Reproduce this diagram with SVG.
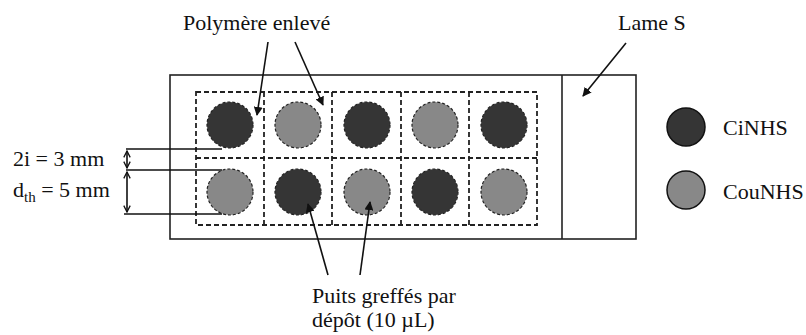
<svg xmlns="http://www.w3.org/2000/svg" width="806" height="335" viewBox="0 0 806 335">
<defs>
<style>
.t{font-family:'Liberation Serif', 'DejaVu Serif', serif;font-size:22px;fill:#111}
.solid{fill:none;stroke:#222;stroke-width:1.6}
.dash{fill:none;stroke:#222;stroke-width:1.8;stroke-dasharray:5,3}
.dark{fill:#353535;stroke:#222;stroke-width:1.2;stroke-dasharray:3,2}
.gray{fill:#888;stroke:#222;stroke-width:1.2;stroke-dasharray:3,2}
.ldark{fill:#353535;stroke:#111;stroke-width:1.5}
.lgray{fill:#888;stroke:#111;stroke-width:1.5}
.arr{stroke:#111;stroke-width:1.6;fill:none;marker-end:url(#ah)}
.dim{stroke:#111;stroke-width:1.6;fill:none;marker-start:url(#oh);marker-end:url(#oh)}
.ext{stroke:#111;stroke-width:1.5;fill:none}
</style>
<marker id="ah" viewBox="0 0 10 10" refX="9" refY="5" markerWidth="9" markerHeight="9" markerUnits="userSpaceOnUse" orient="auto"><path d="M0,0 L10,5 L0,10 z" fill="#111"/></marker>
<marker id="oh" viewBox="0 0 10 10" refX="9" refY="5" markerWidth="8" markerHeight="8" markerUnits="userSpaceOnUse" orient="auto-start-reverse"><path d="M1,1 L9,5 L1,9" fill="none" stroke="#111" stroke-width="1.6"/></marker>
</defs>
<rect width="806" height="335" fill="#fff"/>

<g id="slide">
<rect class="solid" x="170" y="75" width="466" height="164"/>
<line class="solid" x1="562" y1="75" x2="562" y2="239"/>
</g>

<g id="grid">
<rect class="dash" x="196" y="92" width="341" height="133"/>
<line class="dash" x1="196" y1="158" x2="537" y2="158"/>
<line class="dash" x1="264" y1="92" x2="264" y2="225"/>
<line class="dash" x1="332" y1="92" x2="332" y2="225"/>
<line class="dash" x1="401" y1="92" x2="401" y2="225"/>
<line class="dash" x1="469" y1="92" x2="469" y2="225"/>
</g>

<g id="wells">
<circle class="dark" cx="230" cy="125" r="23"/>
<circle class="gray" cx="298" cy="125" r="23"/>
<circle class="dark" cx="367" cy="125" r="23"/>
<circle class="gray" cx="435" cy="125" r="23"/>
<circle class="dark" cx="504" cy="125" r="23"/>
<circle class="gray" cx="230" cy="192" r="23"/>
<circle class="dark" cx="298" cy="192" r="23"/>
<circle class="gray" cx="367" cy="192" r="23"/>
<circle class="dark" cx="435" cy="192" r="23"/>
<circle class="gray" cx="504" cy="192" r="23"/>
</g>

<g id="legend">
<circle class="ldark" cx="686" cy="127" r="19"/>
<text class="t" x="723" y="135">CiNHS</text>
<circle class="lgray" cx="686" cy="190" r="19"/>
<text class="t" x="723" y="199">CouNHS</text>
</g>

<g id="labels">
<text class="t" x="183" y="30">Polymère enlevé</text>
<text class="t" x="618" y="30">Lame S</text>
<text class="t" x="312" y="303">Puits greffés par</text>
<text class="t" x="312" y="327">dépôt (10 µL)</text>
<text class="t" x="13" y="166">2i = 3 mm</text>
<text class="t" x="13" y="197">d<tspan font-size="15" dy="5">th</tspan><tspan dy="-5"> = 5 mm</tspan></text>
</g>

<g id="connectors">
<line class="arr" x1="268" y1="42" x2="257" y2="115"/>
<line class="arr" x1="295" y1="42" x2="323" y2="105"/>
<line class="arr" x1="626" y1="43" x2="583" y2="96"/>
<line class="arr" x1="328" y1="275" x2="308" y2="204"/>
<line class="arr" x1="360" y1="275" x2="370" y2="202"/>
<line class="ext" x1="126" y1="149" x2="222" y2="149"/>
<line class="ext" x1="126" y1="170" x2="222" y2="170"/>
<line class="ext" x1="124" y1="214" x2="222" y2="214"/>
<line class="dim" x1="127" y1="151" x2="127" y2="168"/>
<line class="dim" x1="127" y1="172" x2="127" y2="212"/>
</g>
</svg>
